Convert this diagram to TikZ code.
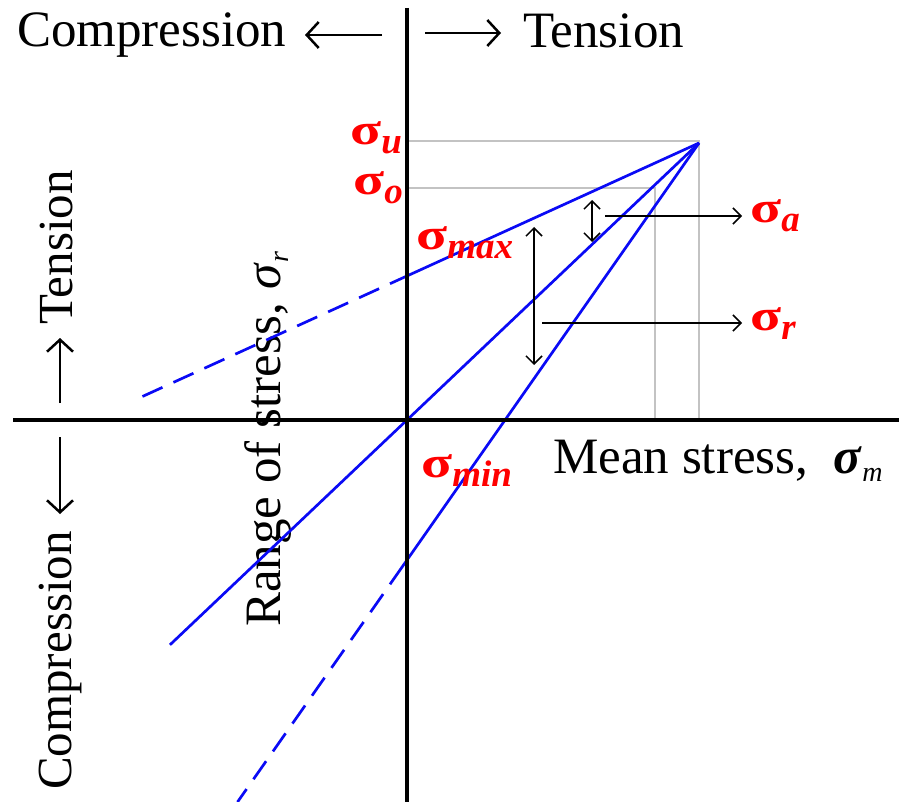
\documentclass[tikz,border=0pt]{standalone}
\usepackage{fontspec}
\setmainfont{Liberation Serif}
\usetikzlibrary{arrows.meta}
\definecolor{gridgray}{RGB}{195,195,195}
\definecolor{lineblue}{RGB}{10,10,245}
\newcommand\redsig{\scalebox{1.3}[1]{σ}}
\newcommand\redsub[1]{\raisebox{-9pt}{\fontsize{37}{40}\selectfont\bfseries\itshape #1}}
\newcommand\axsub[1]{\raisebox{-8pt}{\fontsize{28}{30}\selectfont\itshape #1}}
\begin{document}
\begin{tikzpicture}[x=1pt,y=-1pt,
  axisline/.style={line width=3.5pt},
  gridline/.style={draw=gridgray,line width=1.5pt},
  blueline/.style={draw=lineblue,line width=2.7pt},
  bluedash/.style={blueline,dash pattern=on 22pt off 12pt,dash phase=22pt},
  lab/.style={inner sep=0pt,font=\fontsize{51}{56}\selectfont},
  vlab/.style={inner sep=0pt,font=\fontsize{49}{54}\selectfont,rotate=90},
  redlab/.style={inner sep=0pt,text=red,font=\fontsize{44}{50}\selectfont\bfseries},
  textarrow/.style={line width=2.5pt,-{Straight Barb[length=12pt,width=26pt,line width=2.5pt]}},
  dblarrow/.style={line width=1.5pt,{Straight Barb[length=8pt,width=16pt]}-{Straight Barb[length=8pt,width=16pt]}},
  onearrow/.style={line width=1.5pt,-{Straight Barb[length=8pt,width=16pt]}}
]
\useasboundingbox (0,0) rectangle (899,802);

% texts
\node[lab,anchor=base west] (comptop) at (17,47) {Compression};
\node[lab,anchor=base west] (tenstop) at (523,48) {Tension};
\node[vlab,anchor=base west] (tensleft) at (72,325) {Tension};
\node[vlab,anchor=base west] (compleft) at (71,790) {Compression};
\node[lab,anchor=base west,rotate=90] (range) at (280,627) {Range of stress, \textit{σ}\axsub{r}};
\node[lab,anchor=base west] (mean) at (553,473) {Mean stress,\ \ \textbf{\textit{σ}}\axsub{m}};

% text arrows
\coordinate (cta) at (382,35); \coordinate (ctb) at (305,35);
\coordinate (tta) at (425,33); \coordinate (ttb) at (501,33);
\coordinate (tla) at (60,403); \coordinate (tlb) at (60,338);
\coordinate (cla) at (60,437); \coordinate (clb) at (60,514);
\draw[textarrow] (cta) -- (ctb);
\draw[textarrow] (tta) -- (ttb);
\draw[textarrow] (tla) -- (tlb);
\draw[textarrow] (cla) -- (clb);

% key points
\coordinate (O) at (407,420);
\coordinate (A) at (699,143);
\coordinate (U0) at (407,141); \coordinate (U1) at (699,141); \coordinate (U2) at (699,420);
\coordinate (S0) at (407,188); \coordinate (S1) at (655,188); \coordinate (S2) at (655,420);
\coordinate (P1) at (390,283.7); \coordinate (P2) at (140,397.6);
\coordinate (M1) at (170,644.8);
\coordinate (Q1) at (390,584.3); \coordinate (Q2) at (237.5,802);

% grid lines
\draw[gridline] (U0) -- (U1) -- (U2);
\draw[gridline] (S0) -- (S1) -- (S2);

% blue lines
\draw[blueline] (A) -- (P1);
\draw[bluedash] (P1) -- (P2);
\draw[blueline] (A) -- (M1);
\draw[blueline] (A) -- (Q1);
\draw[bluedash] (Q1) -- (Q2);

% axes
\coordinate (VT) at (407,8); \coordinate (VB) at (407,802);
\coordinate (HL) at (13,420); \coordinate (HR) at (899,420);
\draw[axisline] (VT) -- (VB);
\draw[axisline] (HL) -- (HR);

% dimension arrows
\coordinate (at) at (592,200); \coordinate (ab) at (592,242);
\coordinate (rt) at (534,227); \coordinate (rb) at (534,365);
\draw[dblarrow] (at) -- (ab);
\draw[dblarrow] (rt) -- (rb);
\coordinate (ah0) at (605,216); \coordinate (ah1) at (742,216);
\coordinate (rh0) at (542,323); \coordinate (rh1) at (742,323);
\draw[onearrow] (ah0) -- (ah1);
\draw[onearrow] (rh0) -- (rh1);

% red labels
\node[redlab,anchor=base west] (su) at (350,145) {\redsig\redsub{u}};
\node[redlab,anchor=base west] (so) at (353,195) {\redsig\redsub{o}};
\node[redlab,anchor=base west] (smax) at (416,250) {\redsig\redsub{max}};
\node[redlab,anchor=base west] (smin) at (421,477) {\redsig\redsub{min}};
\node[redlab,anchor=base west] (sa) at (750,223) {\redsig\redsub{a}};
\node[redlab,anchor=base west] (sr) at (750,330) {\redsig\redsub{r}};
\end{tikzpicture}
\end{document}
